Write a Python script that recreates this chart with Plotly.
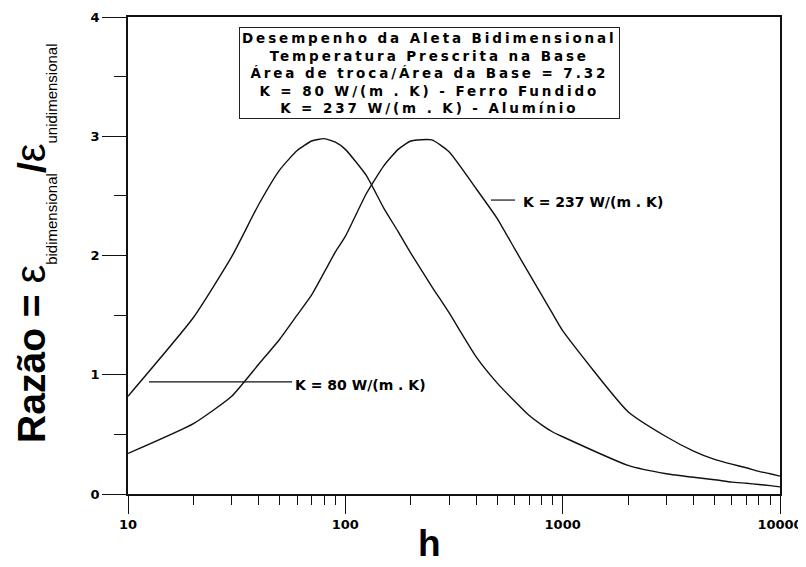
import math
import plotly.graph_objects as go

# ---- data ----
h = [10, 20, 30, 40, 50, 60, 70, 80, 90, 100, 125, 150, 175, 200, 250, 300, 400, 500, 600, 700,
     800, 900, 1000, 2000, 3000, 4000, 5000, 6000, 7000, 8000, 9000, 10000]
razao_k80 = [0.82, 1.48, 1.99, 2.43, 2.72, 2.88, 2.96, 2.98, 2.95, 2.89, 2.67, 2.40, 2.20, 2.02,
             1.74, 1.52, 1.15, 0.93, 0.78, 0.66, 0.58, 0.52, 0.48, 0.24, 0.17, 0.14, 0.12, 0.10,
             0.09, 0.08, 0.07, 0.06]
razao_k237 = [0.34, 0.59, 0.82, 1.09, 1.30, 1.50, 1.67, 1.86, 2.03, 2.16, 2.52, 2.75, 2.89, 2.96,
              2.97, 2.87, 2.56, 2.31, 2.06, 1.85, 1.67, 1.51, 1.37, 0.69, 0.48, 0.36, 0.29, 0.25,
              0.22, 0.19, 0.17, 0.15]

x_ticks = [10, 100, 1000, 10000]
x_ticktext = ["10", "100", "1000", "10000"]
x_minor = [20, 30, 40, 50, 60, 70, 80, 90, 200, 300, 400, 500, 600, 700, 800, 900,
           2000, 3000, 4000, 5000, 6000, 7000, 8000, 9000]
y_ticks = [0, 1, 2, 3, 4]
y_minor = [0.5, 1.5, 2.5, 3.5]

title_lines = [
    "Desempenho da Aleta Bidimensional",
    "Temperatura Prescrita na Base",
    "Área de troca/Área da Base = 7.32",
    "K = 80 W/(m . K) - Ferro Fundido",
    "K = 237 W/(m . K) - Alumínio",
]
label_80 = "K = 80 W/(m . K)"
label_237 = "K = 237 W/(m . K)"
# label anchors (h, razao)
lab80_line = (12.5, 56.9, 0.94)
lab80_text = (57.5, 0.91)
lab237_line = (468, 604, 2.465)
lab237_text = (641, 2.45)

BOLD = dict(family="DejaVu Sans", weight="bold", color="black")

fig = go.Figure()
for ys in (razao_k80, razao_k237):
    fig.add_trace(go.Scatter(x=h, y=ys, mode="lines",
                             line=dict(color="#111111", width=1.4, shape="spline", smoothing=0.5),
                             showlegend=False, hoverinfo="skip"))

# the page body adds an 8px offset, so the figure is sized to fill the rest of the window
fig.update_layout(
    width=798, height=559,
    margin=dict(l=120, r=26, t=9, b=73, autoexpand=False),
    paper_bgcolor="white", plot_bgcolor="white",
    showlegend=False,
)
fig.update_xaxes(
    type="log", range=[1, 4], showgrid=False, zeroline=False,
    showline=True, linecolor="#111111", linewidth=1.5, mirror=True,
    ticks="outside", ticklen=18, tickwidth=1.2, tickcolor="#111111",
    tickvals=x_ticks, ticktext=x_ticktext,
    tickfont=dict(size=13, **BOLD),
    minor=dict(tickvals=x_minor, ticks="outside", ticklen=9, tickwidth=1.2,
               tickcolor="#111111", showgrid=False),
)
fig.update_yaxes(
    range=[0, 4], showgrid=False, zeroline=False,
    showline=True, linecolor="#111111", linewidth=1.8, mirror=True,
    ticks="outside", ticklen=24, tickwidth=1.2, tickcolor="#111111",
    tickvals=y_ticks, tickfont=dict(size=13, **BOLD),
    minor=dict(tickvals=y_minor, ticks="outside", ticklen=12, tickwidth=1.2,
               tickcolor="#111111", showgrid=False),
)

ls = "letter-spacing:2.9px"
box_text = "<br>".join(f'<span style="{ls}">{t}</span>' for t in title_lines)
fig.add_annotation(xref="paper", yref="paper", x=0.463, y=0.8816,
                   xanchor="center", yanchor="middle", showarrow=False,
                   text=box_text, font=dict(size=13.5, **BOLD),
                   bordercolor="#222222", borderwidth=1, borderpad=2,
                   bgcolor="white", align="center")

# leader lines and curve labels
fig.add_shape(type="line", xref="x", yref="y", x0=lab80_line[0], x1=lab80_line[1],
              y0=lab80_line[2], y1=lab80_line[2], line=dict(color="#111111", width=1.2))
fig.add_shape(type="line", xref="x", yref="y", x0=lab237_line[0], x1=lab237_line[1],
              y0=lab237_line[2], y1=lab237_line[2], line=dict(color="#111111", width=1.2))
fig.add_annotation(x=math.log10(lab80_text[0]), y=lab80_text[1], xref="x", yref="y",
                   text=label_80, showarrow=False, xanchor="left", yanchor="middle",
                   font=dict(size=14, **BOLD))
fig.add_annotation(x=math.log10(lab237_text[0]), y=lab237_text[1], xref="x", yref="y",
                   text=label_237, showarrow=False, xanchor="left", yanchor="middle",
                   font=dict(size=14, **BOLD))

# axis titles
fig.add_annotation(xref="paper", yref="paper", x=0.463, y=-0.103,
                   xanchor="center", yanchor="middle", showarrow=False,
                   text="<b>h</b>",
                   font=dict(family="Liberation Sans, Arial", size=37, color="black"))

sub = 'font-size:15px;font-weight:normal;baseline-shift:-12px'
ylab = ('<b>Razão = </b>'
        '<span style="font-size:42px">ε</span>'
        f'<span style="{sub}">bidimensional</span>'
        '<b>/</b>'
        '<span style="font-size:42px">ε</span>'
        f'<span style="{sub}">unidimensional</span>')
fig.add_annotation(xref="paper", yref="paper", x=-0.146, y=0.526,
                   xanchor="center", yanchor="middle", showarrow=False,
                   text=ylab, textangle=-90,
                   font=dict(family="Liberation Sans, Arial", size=39, color="black"))

fig.write_html("out.html")
